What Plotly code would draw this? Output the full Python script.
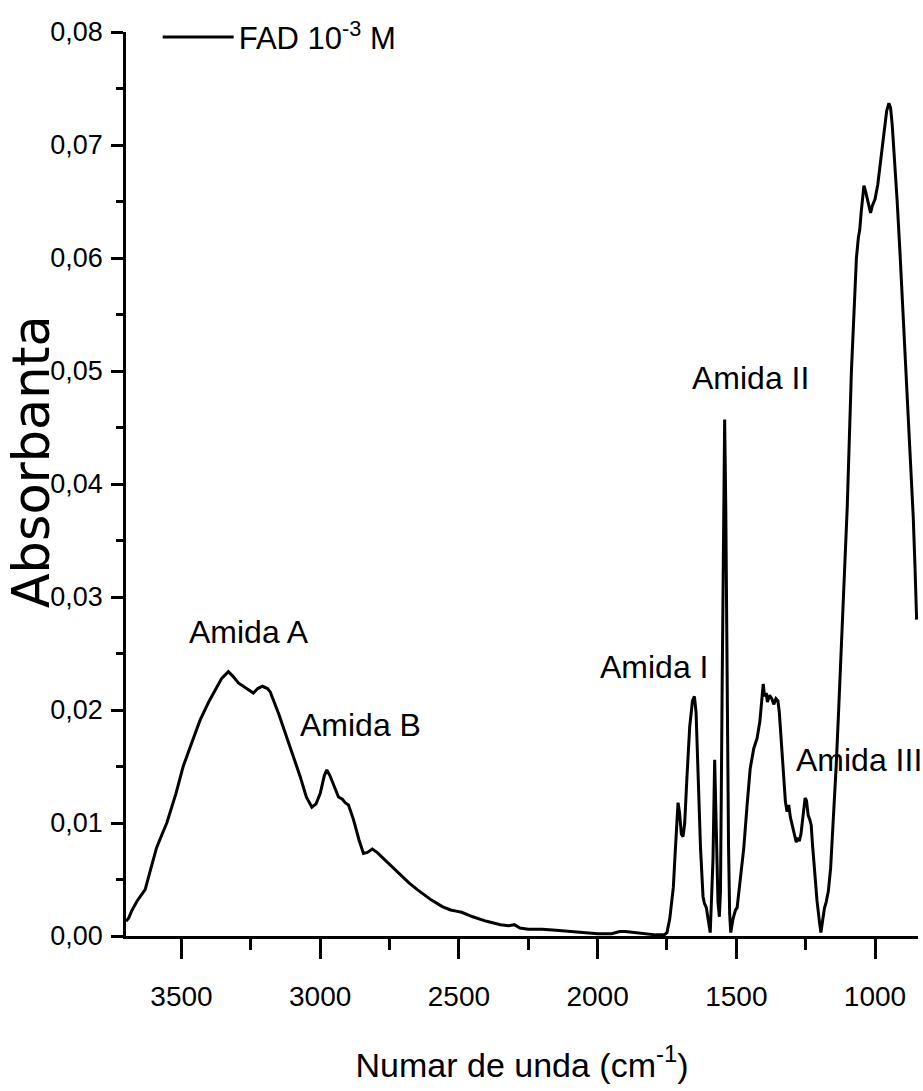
import plotly.graph_objects as go

# Wavenumber (cm-1) and absorbance
wavenumber = [
    3700, 3690, 3680, 3660, 3640, 3631, 3610, 3590, 3570, 3553, 3520, 3494, 3460, 3433,
    3400, 3379, 3355, 3331, 3315, 3295, 3270, 3241, 3225, 3208, 3190, 3180, 3150, 3120,
    3095, 3072, 3050, 3030, 3015, 3000, 2985, 2976, 2965, 2950, 2934, 2920, 2910, 2898,
    2880, 2860, 2844, 2830, 2812, 2795, 2760, 2720, 2680, 2650, 2600, 2560, 2530, 2510,
    2490, 2450, 2400, 2350, 2320, 2300, 2280, 2250, 2200, 2150, 2100, 2050, 2000, 1950,
    1920, 1900, 1870, 1830, 1790, 1760, 1750, 1740, 1727, 1720, 1713, 1710, 1705, 1698,
    1692, 1686, 1678, 1668, 1658, 1651, 1645, 1638, 1629, 1620, 1615, 1608, 1600, 1594,
    1589, 1584, 1578, 1572, 1566, 1561, 1557, 1551, 1546, 1542, 1538, 1533, 1528, 1524,
    1520, 1512, 1503, 1497, 1490, 1480, 1473, 1461, 1450, 1437, 1425, 1415, 1408, 1403,
    1398, 1392, 1388, 1380, 1372, 1365, 1357, 1350, 1345, 1338, 1330, 1323, 1317, 1311,
    1305, 1298, 1290, 1284, 1278, 1273, 1267, 1260, 1252, 1247, 1241, 1235, 1230, 1225,
    1218, 1209, 1200, 1195, 1188, 1182, 1176, 1168, 1160, 1150, 1140, 1131, 1122, 1113,
    1100, 1085, 1075, 1067, 1060, 1055, 1050, 1045, 1040, 1035, 1028, 1022, 1016, 1010,
    1000, 990, 980, 968, 958, 950, 944, 938, 930, 920, 910, 900, 890, 880, 870, 862, 856, 850,
]
absorbance = [
    0.0013, 0.0016, 0.0022, 0.0031, 0.0038, 0.0041, 0.0060, 0.0078, 0.0090, 0.0100, 0.0126, 0.0150, 0.0173, 0.0191,
    0.0208, 0.0218, 0.0228, 0.0234, 0.0230, 0.0224, 0.0220, 0.0215, 0.0219, 0.0221, 0.0219, 0.0216, 0.0197, 0.0176,
    0.0158, 0.0141, 0.0123, 0.0114, 0.0117, 0.0126, 0.0142, 0.0147, 0.0142, 0.0132, 0.0123, 0.0121, 0.0118, 0.0116,
    0.0103, 0.0085, 0.0073, 0.0074, 0.0077, 0.0074, 0.0066, 0.0056, 0.0047, 0.0041, 0.0032, 0.0026, 0.0023, 0.0022,
    0.0021, 0.0017, 0.0013, 0.0010, 0.0009, 0.0010, 0.0007, 0.0006, 0.0006, 0.0005, 0.0004, 0.0003, 0.0002, 0.0002,
    0.0004, 0.0004, 0.0003, 0.0002, 0.0001, 0.0001, 0.0003, 0.0015, 0.0043, 0.0075, 0.0110, 0.0118, 0.0110, 0.0090,
    0.0088, 0.0100, 0.0140, 0.0185, 0.0208, 0.0212, 0.0198, 0.0150, 0.0078, 0.0035, 0.0029, 0.0025, 0.0010, 0.0003,
    0.0035, 0.0068, 0.0156, 0.0090, 0.0030, 0.0017, 0.0040, 0.0220, 0.0400, 0.0457, 0.0380, 0.0220, 0.0080, 0.0020,
    0.0003, 0.0015, 0.0023, 0.0025, 0.0040, 0.0060, 0.0078, 0.0116, 0.0148, 0.0166, 0.0175, 0.0190, 0.0210, 0.0223,
    0.0212, 0.0215, 0.0207, 0.0213, 0.0210, 0.0205, 0.0210, 0.0208, 0.0198, 0.0170, 0.0140, 0.0119, 0.0110, 0.0116,
    0.0105, 0.0097, 0.0088, 0.0083, 0.0087, 0.0084, 0.0090, 0.0108, 0.0122, 0.0120, 0.0107, 0.0103, 0.0098, 0.0080,
    0.0055, 0.0031, 0.0012, 0.0003, 0.0015, 0.0025, 0.0030, 0.0040, 0.0060, 0.0100, 0.0150, 0.0200, 0.0250, 0.0300,
    0.0380, 0.0500, 0.0560, 0.0600, 0.0618, 0.0625, 0.0640, 0.0652, 0.0664, 0.0660, 0.0652, 0.0645, 0.0640, 0.0646,
    0.0652, 0.0665, 0.0685, 0.0712, 0.0730, 0.0737, 0.0733, 0.0718, 0.0690, 0.0650, 0.0605, 0.0558, 0.0512, 0.0466, 0.0418, 0.0370, 0.0328, 0.0280,
]

# Band labels and their positions (wavenumber, absorbance)
band_labels = ["Amida A", "Amida B", "Amida I", "Amida II", "Amida III"]
band_x = [3256, 2856, 1795, 1449, 1059]
band_y = [0.0269, 0.0187, 0.0238, 0.0494, 0.0156]

series_name = "FAD 10<sup>-3</sup> M"
x_title = "Numar de unda (cm<sup>-1</sup>)"
y_title = "Absorbanta"

FONT = "Liberation Sans, Arial, sans-serif"

fig = go.Figure()
fig.add_trace(go.Scatter(
    x=wavenumber, y=absorbance, mode="lines", name=series_name,
    line=dict(color="black", width=3),
))

for t, bx, by in zip(band_labels, band_x, band_y):
    fig.add_annotation(x=bx, y=by, text=t, showarrow=False,
                       font=dict(family=FONT, size=32, color="black"))

# y-axis title placed as rotated text left of the axis
fig.add_annotation(xref="paper", yref="paper", x=-0.120, y=0.525, text=y_title,
                   textangle=-90, showarrow=False, xanchor="center", yanchor="middle",
                   font=dict(family="DejaVu Sans, sans-serif", size=51, color="black"))

fig.update_layout(
    width=923, height=1091,
    margin=dict(l=126, r=5, t=32, b=155),
    plot_bgcolor="white", paper_bgcolor="white",
    separators=", ",
    showlegend=True,
    legend=dict(x=0.040, y=0.994, xanchor="left", yanchor="middle",
                font=dict(family=FONT, size=31, color="black"),
                bgcolor="rgba(0,0,0,0)", itemwidth=71),
)

fig.update_xaxes(
    range=[3700, 845], autorange=False, automargin=False,
    tick0=0, dtick=500,
    ticks="outside", ticklen=20, tickwidth=2.5, tickcolor="black",
    minor=dict(dtick=250, tick0=0, ticks="outside", ticklen=11, tickwidth=2.5, tickcolor="black"),
    showline=True, linewidth=2.5, linecolor="black",
    showgrid=False, zeroline=False,
    tickfont=dict(family=FONT, size=28, color="black"), ticklabelstandoff=14,
    title=dict(text=x_title, font=dict(family=FONT, size=34, color="black"), standoff=42),
)
fig.update_yaxes(
    range=[0, 0.08], autorange=False, automargin=False,
    tick0=0, dtick=0.01, tickformat=".2f",
    ticks="outside", ticklen=12, tickwidth=2.5, tickcolor="black",
    minor=dict(dtick=0.005, tick0=0, ticks="outside", ticklen=7, tickwidth=2.5, tickcolor="black"),
    showline=True, linewidth=2.5, linecolor="black",
    showgrid=False, zeroline=False,
    tickfont=dict(family=FONT, size=27, color="black"), ticklabelstandoff=3,
)

fig.write_html("out.html")
